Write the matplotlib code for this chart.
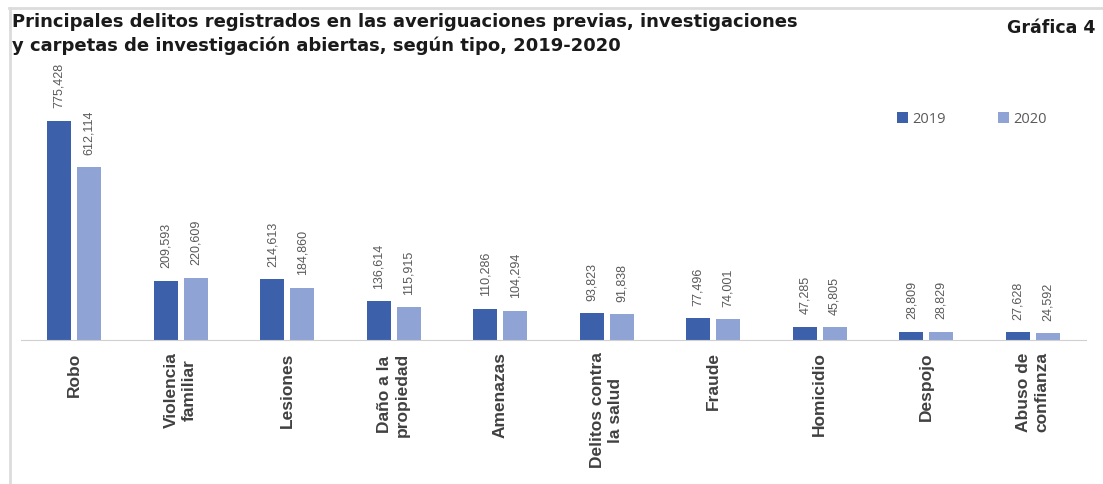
import matplotlib.pyplot as plt
from matplotlib.lines import Line2D
import numpy as np

categorias = ['Robo', 'Violencia\nfamiliar', 'Lesiones', 'Daño a la\npropiedad', 'Amenazas',
              'Delitos contra\nla salud', 'Fraude', 'Homicidio', 'Despojo', 'Abuso de\nconfianza']
v2019 = [775428, 209593, 214613, 136614, 110286, 93823, 77496, 47285, 28809, 27628]
v2020 = [612114, 220609, 184860, 115915, 104294, 91838, 74001, 45805, 28829, 24592]

c2019 = '#3c61aa'
c2020 = '#8fa3d5'
gris = '#595959'

dpi = 100
fig = plt.figure(dpi=dpi, figsize=(1103 / dpi, 484 / dpi))
plt.rcParams['font.family'] = ['Liberation Sans', 'DejaVu Sans']

# marco gris claro
fig.add_artist(Line2D([9 / 1103, 1], [1 - 8 / 484, 1 - 8 / 484], color='#dcdcdc', lw=2))
fig.add_artist(Line2D([10 / 1103, 10 / 1103], [0, 1 - 8 / 484], color='#dcdcdc', lw=2))

ax = fig.add_axes([21 / 1103, 144 / 484, 1065 / 1103, 280 / 484])
xs = np.arange(len(categorias))
w = 0.225
b1 = ax.bar(xs - 0.14, v2019, width=w, color=c2019, label='2019', zorder=2)
b2 = ax.bar(xs + 0.14, v2020, width=w, color=c2020, label='2020', zorder=2)
ax.set_xlim(-0.5, len(categorias) - 0.5)
ax.set_ylim(0, 280 / 0.2825 * 1000)

for bars, vals in ((b1, v2019), (b2, v2020)):
    for r, v in zip(bars, vals):
        ax.annotate(f'{v:,}', (r.get_x() + r.get_width() / 2, v), xytext=(0, 9),
                    textcoords='offset points', rotation=90, ha='center', va='bottom',
                    fontsize=9, color=gris, clip_on=False)

for s in ['top', 'right', 'left']:
    ax.spines[s].set_visible(False)
ax.spines['bottom'].set_color('#d0d0d0')
ax.set_yticks([])
ax.set_xticks(xs)
ax.set_xticklabels(categorias, rotation=90, fontsize=12.5, fontweight='bold',
                   color='#404040', va='top', ha='center', linespacing=1.25)
ax.tick_params(axis='x', length=0, pad=9)

leg = ax.legend(loc='upper left', bbox_to_anchor=(870 / 1065, 1 - 46 / 280), ncol=2,
                frameon=False, fontsize=10.5, handlelength=0.75, handleheight=0.75,
                handletextpad=0.3, columnspacing=3.6, borderaxespad=0)
for t in leg.get_texts():
    t.set_color(gris)
    t.set_family(['Open Sans', 'DejaVu Sans'])

fig.text(12 / 1103, 1 - 13 / 484,
         'Principales delitos registrados en las averiguaciones previas, investigaciones\n'
         'y carpetas de investigación abiertas, según tipo, 2019-2020',
         ha='left', va='top', fontsize=13, fontweight='bold', color='#1a1a1a',
         linespacing=1.4, family=['DejaVu Sans'])
fig.text(1095 / 1103, 1 - 19 / 484, 'Gráfica 4', ha='right', va='top',
         fontsize=12.5, fontweight='bold', color='#1a1a1a', family=['DejaVu Sans'])

fig.savefig('out.png', dpi=dpi)
